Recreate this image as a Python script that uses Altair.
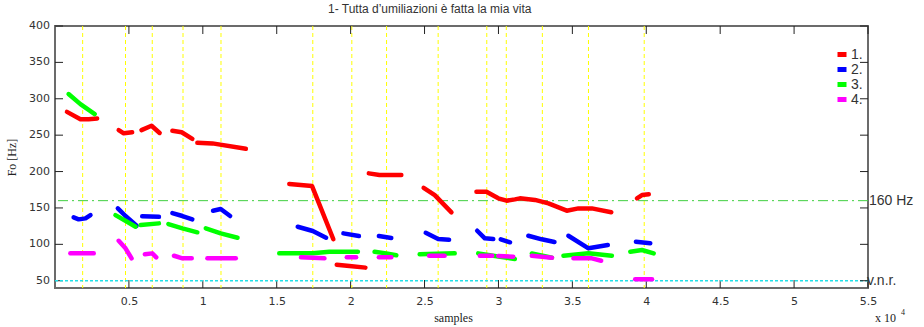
import altair as alt
import pandas as pd

# ---------------- pitch contours: x in samples, y in Hz ----------------
series_names = ["1.", "2.", "3.", "4."]
series_colors = ["#ff0000", "#0000ff", "#00ff00", "#ff00ff"]

red_x = [[810, 1720, 2280, 2850], [4310, 4650, 5220], [5850, 6530, 7080],
         [7940, 8570, 9290], [9630, 10650, 12910], [15850, 17390, 18830],
         [19060, 19920, 21000], [21230, 21950, 23430], [24940, 25690, 26820],
         [28510, 29190, 29990, 30550, 31110, 31450, 32470, 33380, 34620, 35410, 36320, 37630],
         [39370, 39710, 40170]]
red_y = [[282, 272, 272, 273], [257, 252.5, 254], [257, 263, 253],
         [256, 254, 245], [239.6, 238.7, 231.3], [182.8, 180, 107],
         [72, 70.2, 68], [197.5, 195.2, 195.2], [177.7, 167.7, 144],
         [172.3, 172.3, 163.2, 160, 161.8, 163.2, 161, 156.3, 146.2, 149.4, 149.4, 144],
         [163.2, 167.7, 168.7]]

blue_x = [[1260, 1600, 2060, 2400], [4250, 4770, 5520], [5900, 7030],
          [7940, 8620, 9290], [10690, 11210, 11850], [16420, 17440, 18340],
          [19510, 20560], [21910, 22750], [25080, 25920, 26660],
          [28560, 29080, 29650], [30160, 30780], [32020, 32930, 33790],
          [34730, 36090, 37400], [39300, 40270]]
blue_y = [[137, 134.3, 135.7, 140.2], [149.4, 138.9, 125.5], [138.6, 137.8],
          [143, 138.9, 134.3], [146.2, 148.5, 138.9], [124.2, 118.3, 109.1],
          [115.1, 111.4], [111.4, 108.7], [115.9, 107.3, 106.3],
          [118.7, 108.2, 107.3], [106.9, 102.8], [111.8, 106.9, 103.2],
          [111.8, 94.5, 99], [103.6, 101.4]]

green_x = [[920, 1720, 2690], [4090, 4880, 5450], [5790, 7030],
           [7670, 8620, 9630], [10200, 11210, 12350], [15170, 17440, 18560, 20490],
           [21620, 22410, 23090], [24670, 27040], [28630, 29310, 31110],
           [32260, 33620], [34400, 36090, 37670], [38920, 39710, 40500]]
green_y = [[306.5, 292.7, 279], [140.2, 131, 124.2], [126.5, 128.8],
           [127.9, 122, 116.5], [122, 115.1, 109.1], [87.6, 87.6, 89.8, 89.8],
           [89.8, 87.6, 84.9], [86.3, 87.6], [87.6, 85.3, 79.8],
           [87.4, 81.6], [84.3, 87.6, 84.3], [89.8, 92.2, 87.6]]

magenta_x = [[1040, 2620], [4310, 4770, 5180], [6080, 6580, 6850],
             [8050, 8620, 9250], [10310, 12230], [16640, 18230],
             [19740, 20370], [21910, 22750], [25310, 26360],
             [28740, 29580], [29990, 31000], [32260, 33620],
             [35070, 36320, 36950], [39250, 40390]]
magenta_y = [[87.6, 87.6], [104.9, 94.5, 80.8], [86.3, 87.6, 82.1],
             [84.3, 80.8, 80.8], [80.8, 80.8], [82.1, 80.8],
             [82.1, 82.1], [82.1, 82.1], [84.3, 84.3],
             [84.3, 84.3], [84, 83], [84.3, 81.6],
             [80.8, 80.8, 77.5], [51.9, 51.9]]

# syllable boundaries (samples)
marker_x = [1870, 4770, 6580, 8660, 11230, 17440, 20080, 22430,
            25920, 29210, 30530, 32970, 36090, 39860]

x_ticks = [5000, 10000, 15000, 20000, 25000, 30000, 35000, 40000, 45000, 50000, 55000]
y_ticks = [50, 100, 150, 200, 250, 300, 350, 400]
ref_hz = 160
vnr_hz = 50

# ---------------- tables ----------------
rows = []
for name, xs_all, ys_all in zip(series_names,
                                [red_x, blue_x, green_x, magenta_x],
                                [red_y, blue_y, green_y, magenta_y]):
    for k, (sx, sy) in enumerate(zip(xs_all, ys_all)):
        for xv, yv in zip(sx, sy):
            rows.append({"series": name, "seg": f"{name}{k}", "x": xv, "y": yv})
contours = pd.DataFrame(rows)
markers = pd.DataFrame({"x": marker_x})
xt = pd.DataFrame({"v": x_ticks})
yt = pd.DataFrame({"v": y_ticks, "lab": [str(v) for v in y_ticks]})

W, H = 813, 262
TL = 8
xscale = alt.Scale(domain=[0, 55000], nice=False, zero=False)
yscale = alt.Scale(domain=[40, 400], nice=False, zero=False)
cscale = alt.Scale(domain=series_names, range=series_colors)

x_axis = alt.Axis(values=x_ticks, labelExpr="format(datum.value / 10000, '~g')",
                  ticks=False, grid=False, domain=False, labelPadding=7,
                  labelOverlap=False, labelFlush=False,
                  labelFont="DejaVu Sans", labelFontSize=11, labelColor="#333",
                  title="samples", titleFont="Liberation Serif", titleFontSize=12,
                  titleFontWeight="normal", titleColor="#222", titlePadding=6,
                  titleX=398)
# y tick labels are drawn by a text layer; the axis keeps only its title
y_axis = alt.Axis(values=y_ticks, ticks=False, grid=False, domain=False,
                  labels=False,
                  title="Fo [Hz]", titleFont="Liberation Serif", titleFontSize=12,
                  titleFontWeight="normal", titleColor="#222", titlePadding=37)

# inward ticks on all four sides; the first two layers also carry the axes
tick_color = "#222"
bottom_ticks = alt.Chart(xt).mark_rule(color=tick_color).encode(
    x=alt.X("v:Q", scale=xscale, axis=x_axis), y=alt.value(H), y2=alt.value(H - TL))
left_ticks = alt.Chart(yt).mark_rule(color=tick_color).encode(
    y=alt.Y("v:Q", scale=yscale, axis=y_axis), x=alt.value(0), x2=alt.value(TL))
top_ticks = alt.Chart(xt).mark_rule(color=tick_color).encode(
    x="v:Q", y=alt.value(0), y2=alt.value(TL))
right_ticks = alt.Chart(yt).mark_rule(color=tick_color).encode(
    y="v:Q", x=alt.value(W), x2=alt.value(W - TL))
y_labels = alt.Chart(yt).mark_text(align="right", baseline="middle",
                                   font="DejaVu Sans", fontSize=11, color="#333").encode(
    y="v:Q", x=alt.value(-5), text="lab:N")

# syllable boundary lines
vlines = alt.Chart(markers).mark_rule(color="#ffff00", strokeDash=[4, 3], strokeWidth=1).encode(
    x="x:Q"
)

# reference levels
ref_line = alt.Chart().mark_rule(color="#3fcf3f", strokeDash=[10, 4, 2, 4], strokeWidth=1).encode(
    y=alt.Y(datum=ref_hz, type="quantitative")
)
vnr_line = alt.Chart().mark_rule(color="#22e0e8", strokeDash=[3, 2], strokeWidth=1.5).encode(
    y=alt.Y(datum=vnr_hz, type="quantitative")
)

# contour lines, one layer per voice so later voices draw on top
line_layers = []
for name in series_names:
    line_layers.append(
        alt.Chart(contours).transform_filter(alt.datum.series == name)
        .mark_line(strokeWidth=4.5, strokeCap="round", strokeJoin="round")
        .encode(
            x="x:Q",
            y="y:Q",
            color=alt.Color("series:N", scale=cscale, title=None),
            detail="seg:N",
        )
    )

# side labels
ref_label = alt.Chart().mark_text(text="160 Hz", align="left", baseline="middle",
                                  font="Liberation Sans", fontSize=14, color="#333").encode(
    x=alt.value(W + 1), y=alt.Y(datum=ref_hz, type="quantitative"))
vnr_label = alt.Chart().mark_text(text="v.n.r.", align="left", baseline="middle",
                                  font="Liberation Sans", fontSize=14, color="#333").encode(
    x=alt.value(W - 1), y=alt.Y(datum=vnr_hz, type="quantitative"))
exp_base = alt.Chart().mark_text(text="x 10", align="left", baseline="alphabetic",
                                 font="Liberation Serif", fontSize=12, color="#222").encode(
    x=alt.value(820), y=alt.value(H + 34))
exp_pow = alt.Chart().mark_text(text="4", align="left", baseline="alphabetic",
                                font="Liberation Serif", fontSize=8, color="#222").encode(
    x=alt.value(846), y=alt.value(H + 27))

chart = alt.layer(
    bottom_ticks, left_ticks, vlines, ref_line, vnr_line, *line_layers,
    top_ticks, right_ticks, y_labels,
    ref_label, vnr_label, exp_base, exp_pow,
).properties(
    width=W, height=H,
    autosize=alt.AutoSizeParams(type="none"),
    padding={"left": 55, "top": 26, "right": 56, "bottom": 39},
    title=alt.TitleParams(
        text="1- Tutta d\u2019umiliazioni \u00e8 fatta la mia vita",
        anchor="start", frame="group", dx=273, offset=4,
        font="Liberation Sans", fontSize=12,
        fontWeight="normal", color="#333",
    ),
).configure(background="white").configure_view(
    stroke="#6b6b6b", strokeWidth=2
).configure_legend(
    orient="none", legendX=780, legendY=23, padding=0, rowPadding=0,
    clipHeight=11, symbolType="stroke", symbolStrokeWidth=5, symbolSize=81,
    labelFont="Liberation Sans", labelFontSize=14, labelColor="#333", labelOffset=2,
)

chart.save("out.html", embed_options={"renderer": "svg", "actions": False})
